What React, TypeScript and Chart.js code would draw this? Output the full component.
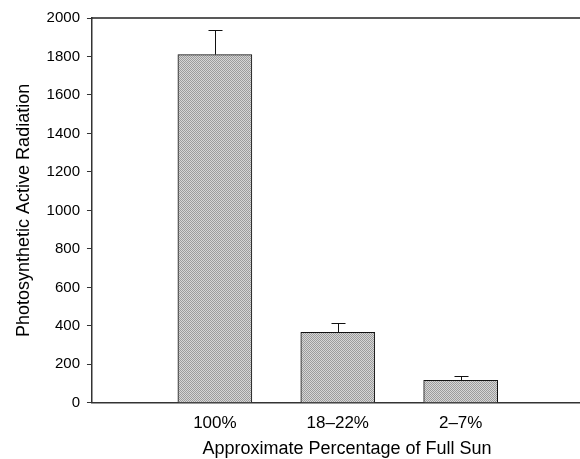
import React, { useEffect, useRef } from "react";
import { Chart, registerables } from "chart.js";

Chart.register(...registerables);

const categories = ["100%", "18–22%", "2–7%"];
const parValues = [1810, 366, 117];
const parErrors = [130, 48, 22];
const yTicks = [0, 200, 400, 600, 800, 1000, 1200, 1400, 1600, 1800, 2000];

const FONT = "'Liberation Sans', Arial, sans-serif";

function makePattern(): CanvasPattern | string {
  const c = document.createElement("canvas");
  c.width = 2;
  c.height = 2;
  const g = c.getContext("2d");
  if (!g) return "#bbbbbb";
  g.fillStyle = "#d6d6d6";
  g.fillRect(0, 0, 2, 2);
  g.fillStyle = "#9c9c9c";
  g.fillRect(0, 0, 1, 1);
  g.fillRect(1, 1, 1, 1);
  const p = g.createPattern(c, "repeat");
  return p || "#bbbbbb";
}

export default function App() {
  const ref = useRef<HTMLCanvasElement | null>(null);

  useEffect(() => {
    const canvas = ref.current;
    if (!canvas) return;
    const points = parValues.map((v, i) => ({ x: i + 1, y: v }));

    const errorBars = {
      id: "errorBars",
      afterDatasetsDraw(chart: any) {
        const ctx = chart.ctx;
        const xs = chart.scales.x;
        const ys = chart.scales.y;
        ctx.save();
        ctx.strokeStyle = "#111";
        ctx.lineWidth = 1;
        parValues.forEach((v, i) => {
          const e = parErrors[i];
          const x = Math.round(xs.getPixelForValue(i + 1)) + 0.5;
          const y0 = ys.getPixelForValue(v);
          const y1 = Math.round(ys.getPixelForValue(v + e)) + 0.5;
          ctx.beginPath();
          ctx.moveTo(x, y0);
          ctx.lineTo(x, y1);
          ctx.moveTo(x - 7, y1);
          ctx.lineTo(x + 7, y1);
          ctx.stroke();
        });
        ctx.restore();
      },
    };

    const topBorder = {
      id: "topBorder",
      afterDraw(chart: any) {
        const { ctx, chartArea } = chart;
        ctx.save();
        ctx.strokeStyle = "#222";
        ctx.lineWidth = 1.5;
        ctx.beginPath();
        ctx.moveTo(chartArea.left, chartArea.top);
        ctx.lineTo(chartArea.right, chartArea.top);
        ctx.stroke();
        ctx.restore();
      },
    };

    const chart = new Chart(canvas, {
      type: "bar",
      data: {
        datasets: [
          {
            data: points as any,
            backgroundColor: makePattern() as any,
            borderColor: "#111",
            borderWidth: 1,
            barThickness: 74,
          },
        ],
      },
      options: {
        responsive: false,
        animation: false,
        layout: { padding: { left: 13, top: 18, right: 0, bottom: 0 } },
        plugins: {
          legend: { display: false },
          tooltip: { enabled: false },
        },
        scales: {
          x: {
            type: "linear",
            min: 0,
            max: 4.15,
            offset: false,
            afterBuildTicks: (axis: any) => {
              axis.ticks = categories.map((_, i) => ({ value: i + 1 }));
            },
            grid: { display: false, drawTicks: false },
            border: { display: true, color: "#333", width: 1.5 },
            ticks: {
              color: "#000",
              font: { family: FONT, size: 17 },
              padding: 10,
              maxRotation: 0,
              autoSkip: false,
              callback: (v: any) => categories[Math.round(Number(v)) - 1] ?? "",
            },
            title: {
              display: true,
              text: "Approximate Percentage of Full Sun",
              color: "#000",
              font: { family: FONT, size: 18, lineHeight: 1.1 },
              padding: { top: -4, bottom: 0 },
            },
          },
          y: {
            min: 0,
            max: 2000,
            afterBuildTicks: (axis: any) => {
              axis.ticks = yTicks.map((v) => ({ value: v }));
            },
            grid: {
              display: true,
              drawOnChartArea: false,
              drawTicks: true,
              tickLength: 5,
              color: "#333",
            },
            border: { display: true, color: "#333", width: 1.5 },
            ticks: {
              color: "#000",
              font: { family: FONT, size: 15 },
              padding: 7,
              callback: (v: any) => String(v),
            },
            title: {
              display: true,
              text: "Photosynthetic Active Radiation",
              color: "#000",
              font: { family: FONT, size: 18 },
              padding: { top: 0, bottom: 5 },
            },
          },
        },
      },
      plugins: [errorBars, topBorder],
    });
    return () => chart.destroy();
  }, []);

  return (
    <div
      style={{
        position: "fixed",
        left: 0,
        top: 0,
        width: 580,
        height: 459,
        overflow: "hidden",
        background: "#fff",
      }}
    >
      <canvas ref={ref} width={602} height={459} style={{ display: "block" }} />
    </div>
  );
}
